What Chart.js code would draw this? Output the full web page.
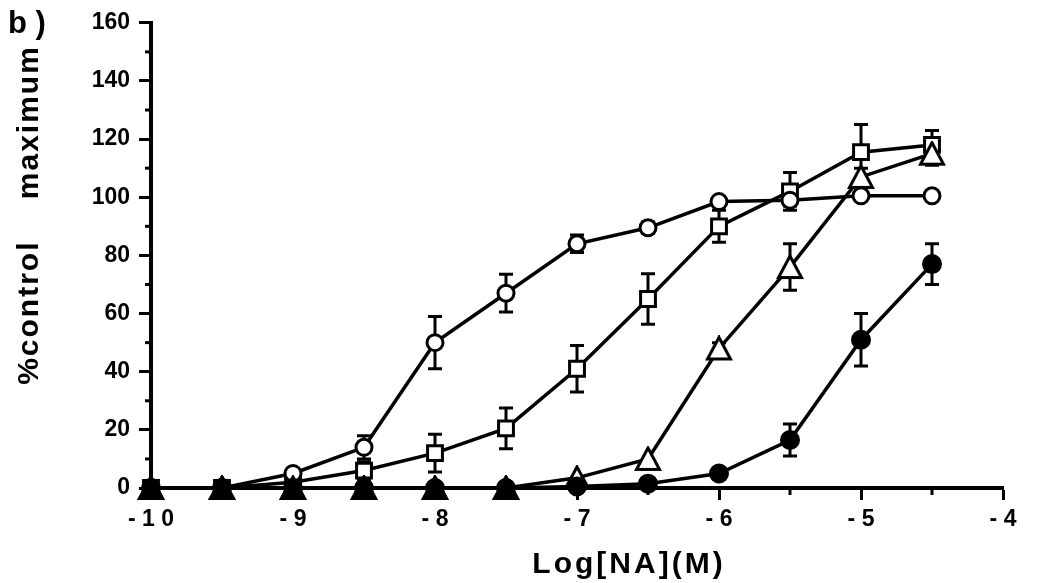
<!DOCTYPE html>
<html><head><meta charset="utf-8">
<script src="https://cdn.jsdelivr.net/npm/chart.js@4/dist/chart.umd.min.js"></script>
<style>html,body{margin:0;padding:0;background:#fff;overflow:hidden}canvas{display:block}</style>
</head><body>
<canvas id="c" width="1045" height="583"></canvas>
<script>
// ---- data ----
const logConc = [-10, -9.5, -9, -8.5, -8, -7.5, -7, -6.5, -6, -5.5, -5, -4.5];
const openCircleMean  = [0, 0, 5, 14, 50, 67, 84, 89.5, 98.5, 99, 100.5, 100.5];
const openCircleErr   = [0, 0, 0, 4, 9, 6.5, 3, 2, 1.5, 2, 0, 0];
const openSquareMean  = [0, 0, 2, 6, 12, 20.5, 41, 65, 90, 102, 115.5, 118];
const openSquareErr   = [0, 0, 0, 3, 6.5, 7, 8, 8.7, 5.5, 6.5, 9.5, 5];
const openTriMean     = [0, 0, 0, 0, 0, 0, 3.5, 10, 48, 76, 107, 115];
const openTriErr      = [0, 0, 0, 0, 0, 0, 0, 0, 2, 8, 3, 4];
const filledCircleMean= [0, 0, 0, 0, 0, 0, 0.5, 1.5, 5, 16.5, 51, 77];
const filledCircleErr = [0, 0, 0, 0, 0, 0, 0, 0, 1, 5.5, 9, 7];
const filledTriConc   = [-10, -9.5, -9, -8.5, -8, -7.5];
const filledTriMean   = [0, 0, 0, 0, 0, 0];
const xTickValues = [-10, -9, -8, -7, -6, -5, -4];
const xTickLabels = ['- 1 0', '- 9', '- 8', '- 7', '- 6', '- 5', '- 4'];
const xMinorTicks = [-9.5, -8.5, -7.5, -6.5, -5.5, -4.5];
const yMinorTicks = [10, 30, 50, 70, 90, 110, 130, 150];
const panelLabel = 'b )';
const yTitle = '%control    maximum';
const xTitle = 'Log[NA](M)';

const FONT = '"Liberation Sans", Arial, Helvetica, sans-serif';
Chart.defaults.font.family = FONT;
Chart.defaults.font.weight = 'bold';
Chart.defaults.color = '#000';

// triangle marker glyphs (centred on their bounding box, like the original)
function triMarker(fill) {
  const c = document.createElement('canvas');
  c.width = 28; c.height = 26;
  const g = c.getContext('2d');
  g.beginPath();
  g.moveTo(14, 2); g.lineTo(2.5, 23.5); g.lineTo(25.5, 23.5); g.closePath();
  g.fillStyle = fill; g.fill();
  g.lineWidth = 3; g.lineJoin = 'miter'; g.strokeStyle = '#000'; g.stroke();
  return c;
}
const openTri = triMarker('#fff');
const filledTri = triMarker('#000');

function pts(xs, ys) { return xs.map((x, i) => ({x: x, y: ys[i]})); }

function ds(xs, ys, errs, style, radius, fill, order) {
  return {
    data: pts(xs, ys),
    errors: errs,
    borderColor: '#000',
    borderWidth: 3.5,
    pointStyle: style,
    pointRadius: radius,
    pointHoverRadius: radius,
    pointBorderWidth: 3,
    pointBorderColor: '#000',
    pointBackgroundColor: fill,
    backgroundColor: fill,
    tension: 0,
    fill: false,
    clip: false,
    order: order
  };
}

const extras = {
  id: 'extras',
  beforeDatasetsDraw(chart) {
    const ctx = chart.ctx, xs = chart.scales.x, ys = chart.scales.y;
    ctx.save();
    ctx.strokeStyle = '#000';
    ctx.lineWidth = 3;
    xMinorTicks.forEach(v => {
      const px = xs.getPixelForValue(v);
      ctx.beginPath(); ctx.moveTo(px, ys.bottom); ctx.lineTo(px, ys.bottom + 7); ctx.stroke();
    });
    yMinorTicks.forEach(v => {
      const py = ys.getPixelForValue(v);
      ctx.beginPath(); ctx.moveTo(xs.left, py); ctx.lineTo(xs.left - 6, py); ctx.stroke();
    });
    chart.data.datasets.forEach(d => {
      if (!d.errors) return;
      d.data.forEach((p, i) => {
        const e = d.errors[i];
        if (!e) return;
        const px = xs.getPixelForValue(p.x);
        const top = ys.getPixelForValue(p.y + e), bot = ys.getPixelForValue(p.y - e);
        ctx.beginPath();
        ctx.moveTo(px, top); ctx.lineTo(px, bot);
        ctx.moveTo(px - 7, top); ctx.lineTo(px + 7, top);
        ctx.moveTo(px - 7, bot); ctx.lineTo(px + 7, bot);
        ctx.stroke();
      });
    });
    ctx.restore();
  },
  afterDraw(chart) {
    const ctx = chart.ctx;
    ctx.save();
    ctx.fillStyle = '#000';
    ctx.font = 'bold 31px ' + FONT;
    ctx.textAlign = 'left';
    ctx.textBaseline = 'alphabetic';
    ctx.fillText(panelLabel, 8, 33);
    ctx.font = 'bold 30px ' + FONT;
    ctx.letterSpacing = '2px';
    ctx.textAlign = 'center';
    ctx.textBaseline = 'middle';
    ctx.save();
    ctx.translate(30, 215);
    ctx.rotate(-Math.PI / 2);
    ctx.fillText(yTitle, 0, 0);
    ctx.restore();
    ctx.letterSpacing = '3px';
    ctx.fillText(xTitle, 629, 565);
    ctx.restore();
  }
};

new Chart(document.getElementById('c'), {
  type: 'line',
  data: {
    datasets: [
      ds(logConc, openCircleMean, openCircleErr, 'circle', 8, '#fff', 2),
      ds(logConc, openTriMean, openTriErr, openTri, 12, '#fff', 3),
      ds(logConc, openSquareMean, openSquareErr, 'rect', 10.5, '#fff', 4),
      ds(logConc, filledCircleMean, filledCircleErr, 'circle', 8.5, '#000', 1),
      ds(filledTriConc, filledTriMean, null, filledTri, 12, '#000', 0)
    ]
  },
  options: {
    responsive: false,
    animation: false,
    events: [],
    layout: { padding: { top: 20, right: 42, bottom: 0, left: 0 } },
    plugins: { legend: { display: false }, tooltip: { enabled: false }, title: { display: false } },
    scales: {
      x: {
        type: 'linear', position: 'bottom', min: -10, max: -4,
        afterFit: s => { s.height = 95; },
        afterBuildTicks: s => { s.ticks = xTickValues.map(v => ({value: v})); },
        ticks: {
          autoSkip: false, maxRotation: 0, padding: 6,
          font: { size: 23, weight: 'bold' }, color: '#000',
          callback: v => { const i = xTickValues.indexOf(v); return i >= 0 ? xTickLabels[i] : ''; }
        },
        grid: { drawOnChartArea: false, drawTicks: true, tickLength: 12, tickWidth: 3, tickColor: '#000' },
        border: { display: true, color: '#000', width: 4 }
      },
      y: {
        type: 'linear', min: 0, max: 160,
        afterFit: s => { s.width = 151; },
        ticks: { stepSize: 20, padding: 9, font: { size: 23, weight: 'bold' }, color: '#000' },
        grid: { drawOnChartArea: false, drawTicks: true, tickLength: 12, tickWidth: 3, tickColor: '#000' },
        border: { display: true, color: '#000', width: 4 }
      }
    }
  },
  plugins: [extras]
});
</script>
</body></html>
